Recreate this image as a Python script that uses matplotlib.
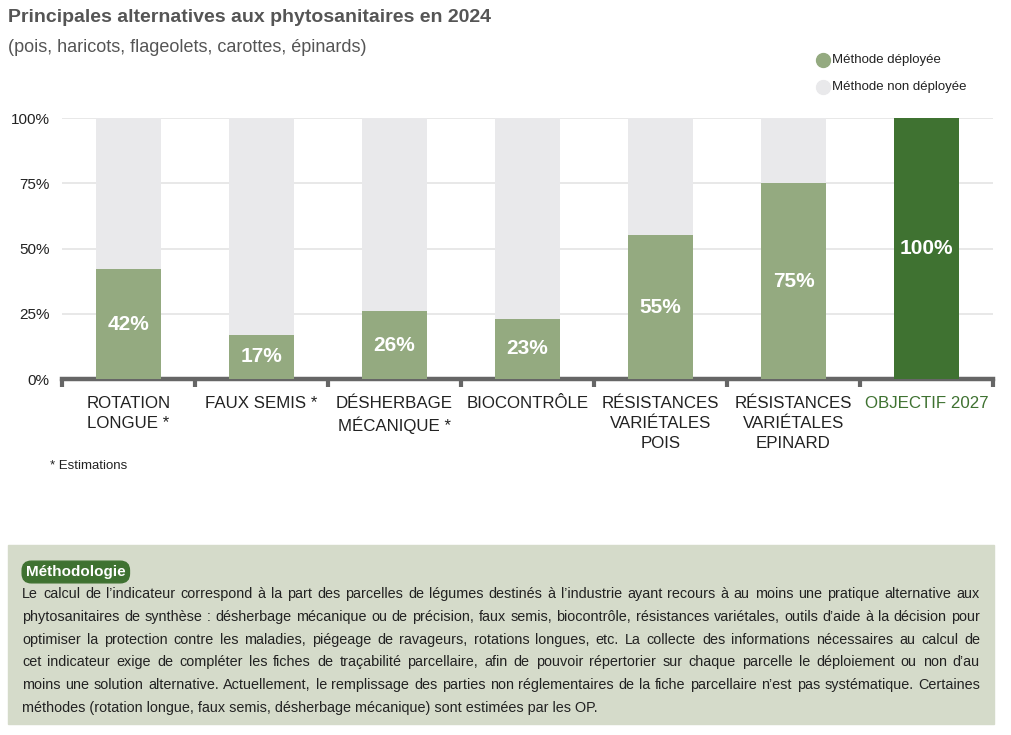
import matplotlib
matplotlib.use("Agg")
import matplotlib.pyplot as plt
from matplotlib.patches import Rectangle
from matplotlib.lines import Line2D

categories = ["ROTATION\nLONGUE *", "FAUX SEMIS *", "DÉSHERBAGE\nMÉCANIQUE *", "BIOCONTRÔLE",
              "RÉSISTANCES\nVARIÉTALES\nPOIS", "RÉSISTANCES\nVARIÉTALES\nEPINARD", "OBJECTIF 2027"]
deployed = [42, 17, 26, 23, 55, 75, 100]
value_labels = ["42%", "17%", "26%", "23%", "55%", "75%", "100%"]
y_ticks = [0, 25, 50, 75, 100]
y_tick_labels = ["0%", "25%", "50%", "75%", "100%"]
legend_labels = ["Méthode déployée", "Méthode non déployée"]
title = "Principales alternatives aux phytosanitaires en 2024"
subtitle = "(pois, haricots, flageolets, carottes, épinards)"
footnote = "* Estimations"
method_title = "Méthodologie"
method_lines = [
    "Le calcul de l\u2019indicateur correspond à la part des parcelles de légumes destinés à l\u2019industrie ayant recours à au moins une pratique alternative aux",
    "phytosanitaires de synthèse : désherbage mécanique ou de précision, faux semis, biocontrôle, résistances variétales, outils d\u2019aide à la décision pour",
    "optimiser la protection contre les maladies, piégeage de ravageurs, rotations longues, etc. La collecte des informations nécessaires au calcul de",
    "cet indicateur exige de compléter les fiches de traçabilité parcellaire, afin de pouvoir répertorier sur chaque parcelle le déploiement ou non d\u2019au",
    "moins une solution alternative. Actuellement, le remplissage des parties non réglementaires de la fiche parcellaire n\u2019est pas systématique. Certaines",
    "méthodes (rotation longue, faux semis, désherbage mécanique) sont estimées par les OP.",
]

C_DEP = "#94aa80"
C_NON = "#e9e9eb"
C_OBJ = "#3f7231"
C_AXIS = "#666666"
C_TXT = "#222222"

plt.rcParams['font.family'] = ['Liberation Sans', 'DejaVu Sans']

W, H = 1012, 735
fig = plt.figure(figsize=(W / 100, H / 100), dpi=100)

def fx(px):
    return px / W

def fy(py):
    return 1 - py / H

# main axes: x 62..993, y 118..379
ax = fig.add_axes([fx(62), fy(379), fx(993) - fx(62), fy(118) - fy(379)])
n = len(categories)
xs = list(range(n))
colors = [C_DEP] * (n - 1) + [C_OBJ]
ax.bar(xs, [100] * n, width=0.49, color=C_NON, zorder=2)
ax.bar(xs, deployed, width=0.49, color=colors, zorder=3)
for x, v, lab in zip(xs, deployed, value_labels):
    ax.text(x, v / 2, lab, ha="center", va="center", color="white",
            fontsize=15, fontweight="bold", zorder=4)
ax.set_xlim(-0.5, n - 0.5)
ax.set_ylim(0, 100)
ax.set_yticks(y_ticks)
ax.set_yticklabels(y_tick_labels, fontsize=11, color=C_TXT)
ax.tick_params(axis="y", length=0, pad=9)
for yv in y_ticks[1:]:
    ax.axhline(yv, color="#e4e4e4", lw=1.2, zorder=1)
for s in ["top", "right", "left"]:
    ax.spines[s].set_visible(False)
ax.spines["bottom"].set_color(C_AXIS)
ax.spines["bottom"].set_linewidth(3.2)
ax.set_xticks([i - 0.5 for i in range(n + 1)])
ax.set_xticklabels([])
ax.tick_params(axis="x", length=6, width=3, color=C_AXIS)

for i, c in enumerate(categories):
    col = C_OBJ if i == n - 1 else C_TXT
    ax.text(i, -6.5, c, ha="center", va="top", fontsize=12.2, color=col,
            linespacing=1.4, transform=ax.transData, clip_on=False)

# titles
fig.text(fx(8), fy(18), title, fontsize=14, fontweight="bold", color="#555555", va="center")
fig.text(fx(8), fy(47), subtitle, fontsize=13, color="#555555", va="center")

# legend
for i, (lab, col) in enumerate(zip(legend_labels, [C_DEP, C_NON])):
    yy = fy(60 + 27 * i)
    fig.add_artist(Line2D([fx(823)], [yy], marker="o", markersize=10, color=col,
                          linestyle="none", transform=fig.transFigure))
    fig.text(fx(832), yy, lab, fontsize=9.5, color=C_TXT, va="center")

fig.text(fx(50), fy(466), footnote, fontsize=9.5, color=C_TXT, va="center")

# methodology box
fig.add_artist(Rectangle((fx(8), fy(724)), fx(994) - fx(8), fy(545) - fy(724),
                         transform=fig.transFigure, color="#d5dbca", zorder=0))
fig.text(fx(26), fy(572), method_title, fontsize=11, fontweight="bold", color="white",
         va="center", ha="left",
         bbox=dict(boxstyle="round,pad=0.25,rounding_size=0.6", fc="#3f7231", ec="#3f7231"))

# justified paragraph
renderer = fig.canvas.get_renderer()
x0, x1 = 22, 980
fs = 10.4
for i, line in enumerate(method_lines):
    yy = fy(594 + 22.8 * i)
    if i == len(method_lines) - 1:
        fig.text(fx(x0), yy, line, fontsize=fs, color=C_TXT, va="center")
        continue
    words = line.split(" ")
    texts = [fig.text(fx(x0), yy, w, fontsize=fs, color=C_TXT, va="center") for w in words]
    widths = [t.get_window_extent(renderer).width for t in texts]
    gap = (x1 - x0 - sum(widths)) / (len(words) - 1)
    cur = x0
    for t, wdt in zip(texts, widths):
        t.set_x(fx(cur))
        cur += wdt + gap

fig.savefig("out.png", dpi=100)
